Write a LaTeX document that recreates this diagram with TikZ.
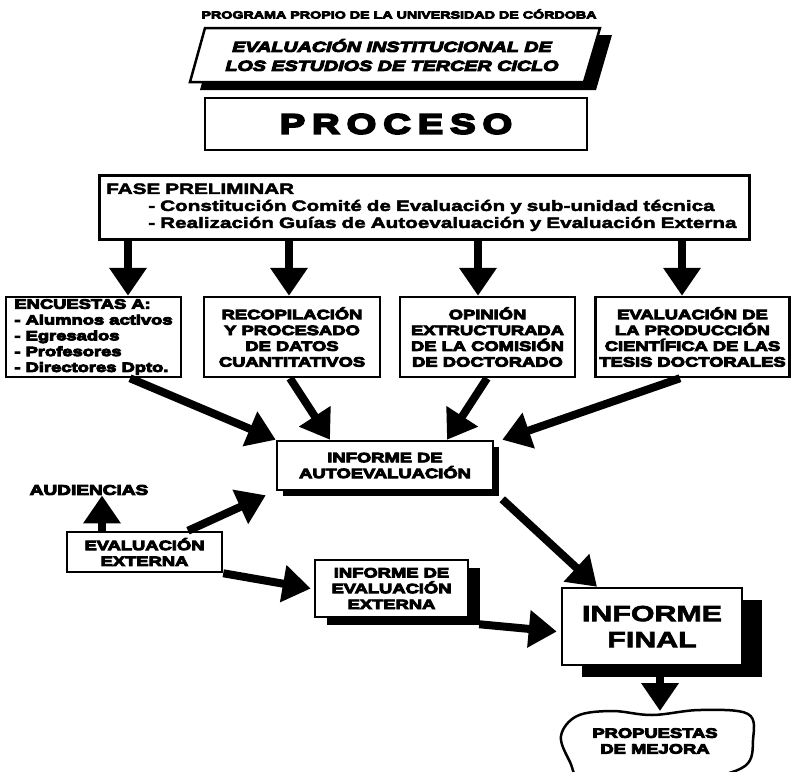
\documentclass[tikz,border=0pt]{standalone}
\usepackage{fontspec}
\setmainfont{Liberation Sans}[FakeStretch=1.38]
\newfontfamily\heavy{Liberation Sans}[FakeStretch=1.36, BoldFeatures={FakeBold=7}, BoldItalicFeatures={FakeBold=7}]
\newfontfamily\semiheavy{Liberation Sans}[FakeStretch=1.38, BoldFeatures={FakeBold=3}]
\usetikzlibrary{arrows.meta,shadows}
\begin{document}
\begin{tikzpicture}[x=1pt,y=-1pt,
  box/.style={draw, line width=2.5pt, fill=white, inner sep=2pt, align=center},
  hv/.style={font=\heavy\bfseries\fontsize{13.5}{15.8}\selectfont},
  bigarrow/.style={line width=8pt, -{Triangle[width=36pt,length=28pt]}},
  shad/.style 2 args={drop shadow={shadow xshift=#1, shadow yshift=-#2, fill=black, opacity=1}}
]
\useasboundingbox (0,0) rectangle (792,771);
\clip (0,0) rectangle (792,771);

% title
\node[font=\heavy\bfseries\fontsize{10.5}{12}\selectfont] (title) at (399,14) {PROGRAMA PROPIO DE LA UNIVERSIDAD DE CÓRDOBA};

% slanted banner
\fill (215,35) -- (612,35) -- (596,90) -- (200,90) -- cycle;
\draw[line width=2.5pt, fill=white] (205,28) -- (600,28) -- (584,82) -- (190,82) -- cycle;
\node[font=\heavy\bfseries\itshape\fontsize{14.5}{19}\selectfont, align=center] (sub) at (392,55) {EVALUACIÓN INSTITUCIONAL DE\\LOS ESTUDIOS DE TERCER CICLO};

% proceso
\node[box, minimum width=382pt, minimum height=52pt, font=\heavy\bfseries\fontsize{28}{30}\selectfont] (proc) at (396,124)
  {P\hspace{7pt}R\hspace{7pt}O\hspace{7pt}C\hspace{7pt}E\hspace{7pt}S\hspace{7pt}O};

% fase preliminar
\node[box, anchor=north west, minimum width=650pt, minimum height=64pt, text width=636pt, inner xsep=7pt, align=left,
  font=\semiheavy\bfseries\fontsize{15}{17}\selectfont] (fase) at (98,174)
  {FASE PRELIMINAR\\
   \hspace*{42pt}- Constitución Comité de Evaluación y sub-unidad técnica\\
   \hspace*{42pt}- Realización Guías de Autoevaluación y Evaluación Externa};

% four boxes
\node[box, hv, minimum width=175pt, minimum height=80pt, align=left] (enc) at (93.5,337)
  {ENCUESTAS A:\\- Alumnos activos\\- Egresados\\- Profesores\\- Directores Dpto.};
\node[box, hv, minimum width=176pt, minimum height=80pt] (rec) at (292,337)
  {RECOPILACIÓN\\Y PROCESADO\\DE DATOS\\CUANTITATIVOS};
\node[box, hv, minimum width=175pt, minimum height=80pt] (opi) at (487.5,337)
  {OPINIÓN\\EXTRUCTURADA\\DE LA COMISIÓN\\DE DOCTORADO};
\node[box, hv, minimum width=194pt, minimum height=80pt, inner xsep=1pt] (evp) at (692.5,337)
  {EVALUACIÓN DE\\LA PRODUCCIÓN\\CIENTÍFICA DE LAS\\TESIS DOCTORALES};

% arrows from fase
\draw[bigarrow] (fase.south -| 128,0) -- (enc.north -| 128,0);
\draw[bigarrow] (fase.south -| 289,0) -- (rec.north -| 289,0);
\draw[bigarrow] (fase.south -| 478,0) -- (opi.north -| 478,0);
\draw[bigarrow] (fase.south -| 682,0) -- (evp.north -| 682,0);

% informe de autoevaluacion
\node[box, hv, shad={6pt}{6pt}, minimum width=216pt, minimum height=49pt] (auto) at (385,465.5)
  {INFORME DE\\AUTOEVALUACIÓN};

\draw[bigarrow] (enc.south -| 130,0) -- (auto.north west);
\draw[bigarrow] (rec.south -| 290,0) -- (auto.north -| 330,0);
\draw[bigarrow] (opi.south -| 487,0) -- (auto.north -| 447,0);
\draw[bigarrow] (evp.south -| 680,0) -- ([xshift=8pt]auto.north east);

% audiencias / evaluacion externa
\node[font=\heavy\bfseries\fontsize{14}{16}\selectfont] (audi) at (89,490) {AUDIENCIAS};
\node[box, hv, minimum width=155pt, minimum height=40pt] (evext) at (144.5,552) {EVALUACIÓN\\EXTERNA};

\draw[bigarrow] (evext.north -| 102,0) -- ([yshift=3pt]audi.south -| 102,0);
\draw[bigarrow] (evext.north -| 188,0) -- ([xshift=-10pt,yshift=-4pt]auto.south west);

% informe de evaluacion externa
\node[box, hv, shad={12pt}{8pt}, minimum width=153pt, minimum height=57pt] (iee) at (391.5,588.5)
  {INFORME DE\\EVALUACIÓN\\EXTERNA};
\draw[bigarrow] (evext.south east) -- ([xshift=-3pt]iee.west);

% informe final
\node[box, shad={20pt}{12pt}, minimum width=180pt, minimum height=77pt,
  font=\semiheavy\bfseries\fontsize{22}{26}\selectfont] (ifinal) at (652,626.5) {INFORME\\FINAL};
\draw[bigarrow] ([xshift=10pt,yshift=-6pt]iee.south east) -- ([xshift=-4pt,yshift=-5pt]ifinal.west);
\draw[bigarrow] ([xshift=8pt,yshift=-8pt]auto.south east) -- (ifinal.north -| 597,0);

% propuestas de mejora
\draw[line width=2.5pt, fill=white] plot[smooth cycle, tension=0.6] coordinates
  {(577,716) (612,711) (652,715) (700,710) (748,714) (753,740) (745,766) (700,780) (640,790) (585,786) (570,762) (561,736)};
\coordinate (proptop) at (660,711);
\node[hv, align=center] (prop) at (655,741) {PROPUESTAS\\DE MEJORA};
\draw[bigarrow] (ifinal.south -| 660,0) -- (proptop);
\end{tikzpicture}
\end{document}
